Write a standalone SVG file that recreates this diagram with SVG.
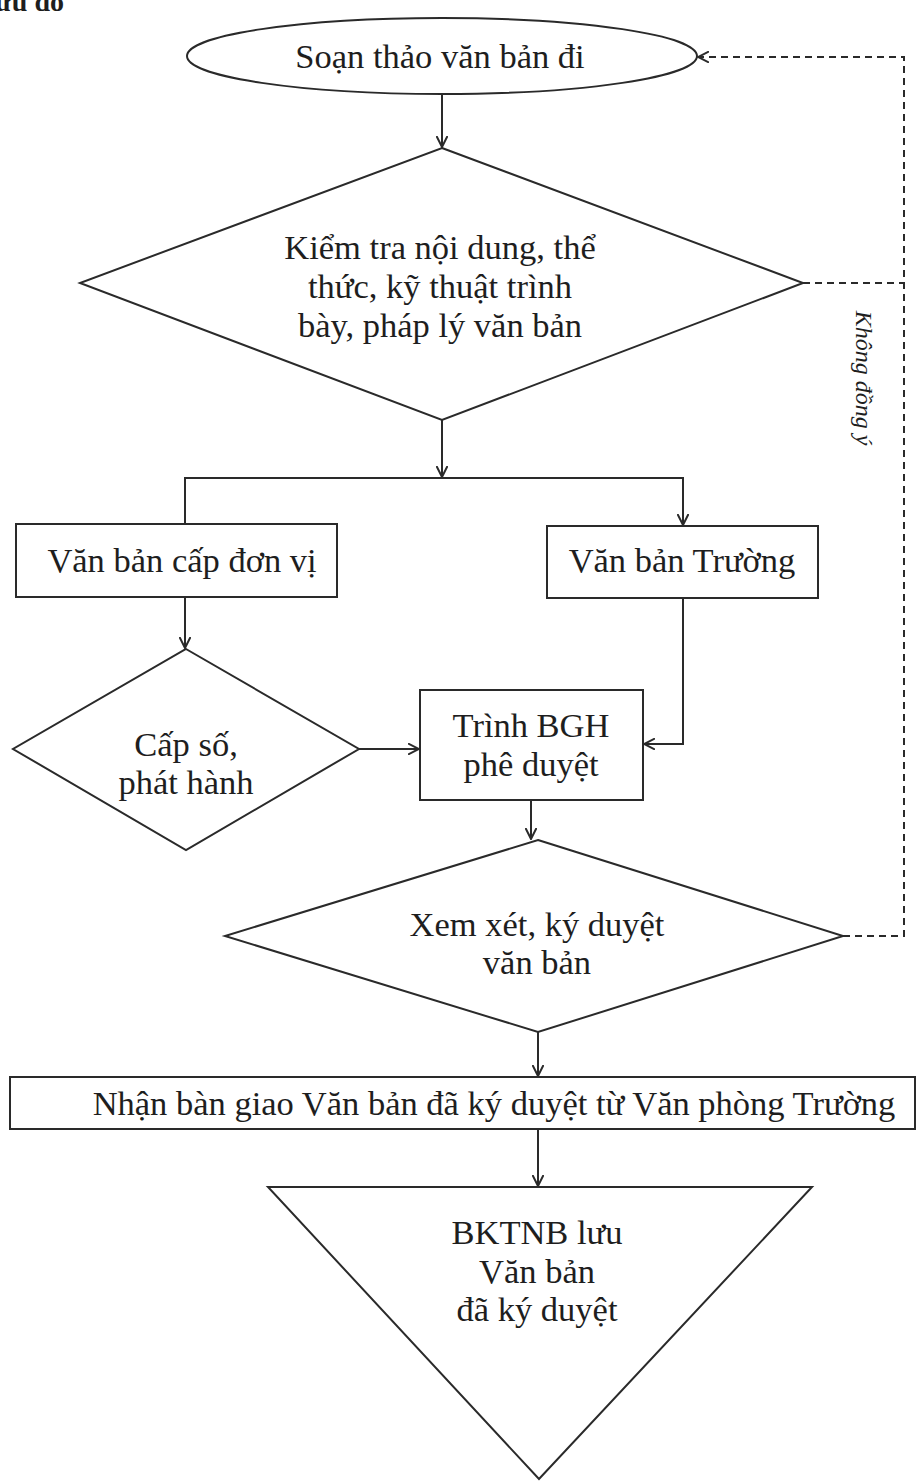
<svg xmlns="http://www.w3.org/2000/svg" width="919" height="1481" viewBox="0 0 919 1481">
<style>
.s{fill:none;stroke:#2a2a2a;stroke-width:2}
.c{fill:none;stroke:#2a2a2a;stroke-width:2}
.d{fill:none;stroke:#2a2a2a;stroke-width:2;stroke-dasharray:7 5}
.t{font-family:"Liberation Serif","Times New Roman",serif;font-size:34.5px;fill:#1e1e1e;text-anchor:middle}
.h{font-family:"Liberation Serif","Times New Roman",serif;font-size:28px;font-weight:bold;fill:#1e1e1e;text-anchor:end}
.i{font-family:"Liberation Serif","Times New Roman",serif;font-size:24px;font-style:italic;fill:#1e1e1e;text-anchor:middle}
</style>
<defs>
<marker id="a" viewBox="0 0 12 12" refX="11" refY="6" markerWidth="12" markerHeight="12" markerUnits="userSpaceOnUse" orient="auto">
<path d="M0,0.5 L11,6 L0,11.5" fill="none" stroke="#2a2a2a" stroke-width="2"/>
</marker>
</defs>
<rect width="919" height="1481" fill="#ffffff"/>
<text class="h" x="64" y="11">Lưu đồ</text>

<g id="n1">
<ellipse class="s" cx="442" cy="56" rx="255" ry="38"/>
<text class="t" x="440" y="68">Soạn thảo văn bản đi</text>
</g>
<g id="n2">
<polygon class="s" points="442,148 803,283 442,420 80,283"/>
<text class="t" x="440" y="259">Kiểm tra nội dung, thể</text>
<text class="t" x="440" y="298">thức, kỹ thuật trình</text>
<text class="t" x="440" y="337">bày, pháp lý văn bản</text>
</g>
<g id="n3">
<rect class="s" x="16" y="524" width="321" height="73"/>
<text class="t" x="182" y="572">Văn bản cấp đơn vị</text>
</g>
<g id="n4">
<rect class="s" x="547" y="526" width="271" height="72"/>
<text class="t" x="682" y="572">Văn bản Trường</text>
</g>
<g id="n5">
<polygon class="s" points="186,649 359,749 186,850 13,749"/>
<text class="t" x="186" y="756">Cấp số,</text>
<text class="t" x="186" y="794">phát hành</text>
</g>
<g id="n6">
<rect class="s" x="420" y="690" width="223" height="110"/>
<text class="t" x="531" y="737">Trình BGH</text>
<text class="t" x="531" y="776">phê duyệt</text>
</g>
<g id="n7">
<polygon class="s" points="538,840 843,936 538,1032 225,936"/>
<text class="t" x="537" y="936">Xem xét, ký duyệt</text>
<text class="t" x="537" y="974">văn bản</text>
</g>
<g id="n8">
<rect class="s" x="10" y="1077" width="905" height="52"/>
<text class="t" x="494" y="1115">Nhận bàn giao Văn bản đã ký duyệt từ Văn phòng Trường</text>
</g>
<g id="n9">
<polygon class="s" points="268,1187 812,1187 539,1479"/>
<text class="t" x="537" y="1244">BKTNB lưu</text>
<text class="t" x="537" y="1283">Văn bản</text>
<text class="t" x="537" y="1321">đã ký duyệt</text>
</g>

<g id="connectors">
<path class="c" d="M442,94 L442,147" marker-end="url(#a)"/>
<path class="c" d="M442,420 L442,477" marker-end="url(#a)"/>
<path class="c" d="M185,524 L185,478 L683,478 L683,525" marker-end="url(#a)"/>
<path class="c" d="M185,597 L185,648" marker-end="url(#a)"/>
<path class="c" d="M359,749 L419,749" marker-end="url(#a)"/>
<path class="c" d="M683,598 L683,744 L644,744" marker-end="url(#a)"/>
<path class="c" d="M531,800 L531,839" marker-end="url(#a)"/>
<path class="c" d="M538,1032 L538,1076" marker-end="url(#a)"/>
<path class="c" d="M538,1129 L538,1186" marker-end="url(#a)"/>
<path class="d" d="M843,936 L904,936 L904,57 L698,57" marker-end="url(#a)"/>
<path class="d" d="M803,283 L904,283"/>
<text class="i" transform="translate(856,378) rotate(90)">Không đồng ý</text>
</g>
</svg>
